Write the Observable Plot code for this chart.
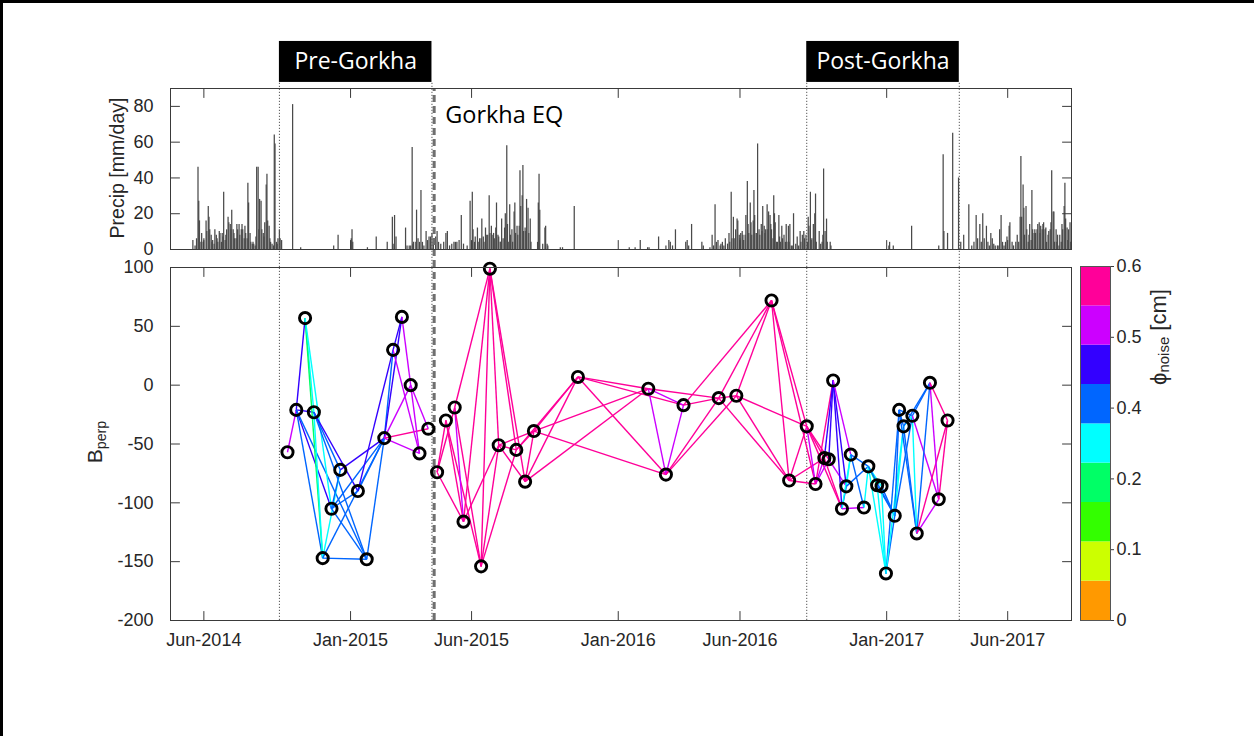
<!DOCTYPE html>
<html>
<head>
<meta charset="utf-8">
<script src="https://cdn.jsdelivr.net/npm/d3@7"></script>
<script src="https://cdn.jsdelivr.net/npm/@observablehq/plot@0.6"></script>
<style>
html, body { margin: 0; padding: 0; background: #fff; }
#fig { position: relative; width: 1254px; height: 736px; overflow: hidden; background: #fff; }
.bt { position: absolute; left: 0; top: 0; width: 1254px; height: 3px; background: #000; }
.bl { position: absolute; left: 0; top: 0; width: 3px; height: 736px; background: #000; }
.layer { position: absolute; left: 0; }
.layer svg { overflow: visible; }
.vlabel { position: absolute; transform: translate(-50%, -50%) rotate(-90deg); white-space: nowrap;
  font-family: "Liberation Sans", Arial, sans-serif; color: #262626; line-height: 1; }
.vlabel sub { font-size: 0.68em; vertical-align: -0.25em; }
</style>
</head>
<body>
<div id="fig">
  <div class="layer" id="precip" style="top:30px"></div>
  <div class="layer" id="bperp" style="top:250px"></div>
  <div class="layer" id="cbar" style="top:250px"></div>
  <div class="vlabel" style="left:118px; top:168px; font-size:19.5px">Precip [mm/day]</div>
  <div class="vlabel" style="left:96px; top:442px; font-size:21px">B<sub>perp</sub></div>
  <div class="vlabel" style="left:1160px; top:337px; font-size:22px">ϕ<sub>noise</sub> [cm]</div>
  <div class="bt"></div>
  <div class="bl"></div>
</div>
<script>
// ---------------- data ----------------
// acquisition dates and perpendicular baselines
const ptDates = ["2014-10-07","2014-10-19","2014-10-31","2014-11-12","2014-11-24","2014-12-06","2014-12-18","2015-01-11","2015-01-23","2015-02-16","2015-02-28","2015-03-12","2015-03-24","2015-04-05","2015-04-17",
"2015-04-29","2015-05-11","2015-05-23","2015-06-04","2015-06-28","2015-07-10","2015-07-22","2015-08-15","2015-08-27","2015-09-08","2015-11-07","2016-02-11","2016-03-06","2016-03-30","2016-05-17","2016-06-10","2016-07-28","2016-08-21","2016-09-14","2016-09-26","2016-10-08","2016-10-14","2016-10-20","2016-11-01","2016-11-07","2016-11-13","2016-12-01","2016-12-07","2016-12-19","2016-12-25","2016-12-31","2017-01-12","2017-01-18","2017-01-24","2017-02-05","2017-02-11","2017-03-01","2017-03-13","2017-03-25"];
const ptBperp = [-57,-21,57,-23,-147,-105,-72,-90,-148,-45,30,58,0,-58,-37,
-74,-30,-19,-116,-154,99,-51,-55,-82,-39,7,-3,-76,-17,-11,-9,72,-81,-35,-84,-62,-63,4,-105,-86,-59,-104,-69,-85,-86,-160,-111,-21,-35,-26,-126,2,-97,-30];

// interferogram pairs: [first, second, phase noise (cm)]
const edges = [
 [0,1,0.50],[1,2,0.44],[1,3,0.44],[1,4,0.37],[1,5,0.44],[1,8,0.37],[2,3,0.30],[2,4,0.23],[2,5,0.30],
 [3,4,0.30],[3,6,0.37],[3,7,0.44],[3,8,0.37],[4,6,0.30],[4,8,0.37],[4,9,0.37],[5,6,0.37],[5,7,0.37],
 [5,8,0.37],[5,9,0.37],[6,9,0.44],[7,9,0.37],[7,10,0.44],[8,9,0.37],[9,10,0.37],[9,11,0.44],[9,12,0.50],
 [9,13,0.50],[9,14,0.57],[10,11,0.44],[10,13,0.50],[11,12,0.50],[12,13,0.50],[12,14,0.50],
 [15,16,0.57],[15,17,0.57],[15,18,0.57],[16,18,0.57],[16,19,0.57],[17,18,0.50],[17,19,0.57],[17,20,0.57],
 [18,20,0.57],[18,21,0.57],[19,20,0.57],[19,21,0.57],[19,22,0.57],[20,21,0.57],[20,22,0.57],[20,23,0.57],
 [21,22,0.57],[21,23,0.57],[21,24,0.57],[22,24,0.57],[22,25,0.57],[23,24,0.57],[23,25,0.57],[23,26,0.57],
 [24,25,0.57],[24,26,0.57],[24,27,0.57],[25,26,0.57],[25,27,0.57],[25,28,0.57],[26,27,0.50],[26,28,0.50],
 [26,29,0.57],[27,28,0.50],[27,29,0.57],[27,30,0.57],[28,29,0.57],[28,31,0.57],[29,30,0.57],[29,31,0.57],
 [30,31,0.57],[30,32,0.57],[29,32,0.57],[30,33,0.57],[31,32,0.57],[31,33,0.57],[31,34,0.57],
 [32,33,0.57],[32,34,0.57],[32,35,0.57],[33,34,0.50],[33,35,0.57],[33,36,0.57],[33,38,0.57],[34,35,0.50],
 [34,36,0.50],[34,37,0.57],[35,37,0.44],[36,37,0.44],[35,38,0.57],[36,39,0.50],[37,38,0.44],[37,39,0.44],
 [37,40,0.50],[38,39,0.37],[38,40,0.30],[38,41,0.50],[39,40,0.30],[39,42,0.37],[40,41,0.37],[40,42,0.37],
 [41,42,0.30],[42,43,0.23],[42,44,0.30],[42,45,0.30],[42,46,0.37],[43,45,0.30],[43,46,0.37],[44,45,0.30],
 [44,46,0.37],[45,46,0.37],[45,47,0.37],[45,48,0.30],[46,47,0.37],[46,48,0.30],[46,49,0.37],[47,48,0.37],
 [47,49,0.37],[47,50,0.37],[48,49,0.30],[48,50,0.37],[48,51,0.37],[49,50,0.30],[49,51,0.37],[49,52,0.50],
 [50,51,0.37],[50,52,0.50],[50,53,0.57],[51,52,0.50],[51,53,0.57],[52,53,0.57]
];

// daily precipitation: day number counted from precipStart, and amount (mm/day)
const precipStart = "2014-05-01";
const precipDay = [30,33,35,37,38,39,41,42,44,45,48,49,51,52,53,55,56,57,59,60,62,63,64,66,67,69,70,71,72,74,75,76,78,79,81,82,83,85,86,87,89,90,91,93,94,96,97,98,100,101,102,104,105,106,108,109,111,112,113,115,116,117,119,120,121,123,124,126,127,128,130,131,132,134,135,136,138,140,141,142,144,145,146,148,149,151,166,177,222,228,246,247,248,268,280,295,302,303,305,307,320,322,325,327,329,330,331,334,335,337,339,341,343,345,348,350,352,354,356,358,361,363,365,368,372,375,377,380,383,386,388,390,393,396,399,404,408,
411,412,414,415,418,419,421,423,424,426,427,429,430,432,434,435,437,438,440,441,443,444,446,447,449,450,451,453,455,456,458,459,460,462,463,465,466,468,469,470,472,473,475,476,477,479,480,481,483,484,485,487,488,490,491,500,501,502,503,507,510,511,513,514,531,534,550,625,633,640,650,652,665,675,679,681,684,688,702,704,706,710,724,726,735,738,740,742,744,746,749,750,752,754,756,759,761,762,764,765,767,769,770,772,773,775,776,777,779,780,781,783,784,786,787,788,790,791,792,794,795,796,798,799,800,802,803,805,806,807,809,810,811,813,814,815,817,
818,819,821,822,823,824,826,827,829,830,831,833,834,836,838,839,840,842,843,844,846,848,849,852,854,856,858,859,861,863,864,866,868,869,870,872,873,874,876,878,879,880,884,886,888,889,890,892,894,895,899,900,979,980,985,1010,1047,1053,1054,1059,1066,1074,1077,1081,1088,1092,1095,1098,1100,1103,1105,1107,1109,1112,1114,1116,1118,1120,1122,1124,1127,1129,1130,1132,1134,1136,1138,1140,1143,1144,1147,1149,1152,1154,1156,1158,1159,1160,1162,1163,1164,1166,1167,1169,1170,1171,1173,1174,1175,1177,1178,1179,1181,1182,1184,1185,1186,1188,1189,1190,1192,1193,1194,1196,1197,1199,1200,1201,1203,1204,1205,1207,1208,1209,1211,1212,1214,1215,1216,1218,1219,1220,1222,1223,1224,1226,1227];
const precipMm = [5,2,6,46,27,16,4,9,4,6,16,10,24,18,11,8,4,5,3,11,8,6,4,10,9,4,9,7,32,5,8,11,18,15,14,11,22,11,9,6,6,14,11,14,8,11,14,11,6,13,9,6,37,26,9,4,3,4,3,2,7,46,46,11,28,27,11,9,7,15,36,42,16,13,6,4,3,2,64,59,4,3,6,11,6,5,81,1,2,8,6,11,4,1,7,4,18,3,19,7,12,2,2,2,57,3,4,4,22,6,4,33,4,2,10,5,7,7,9,4,7,10,4,3,4,9,10,2,3,4,4,4,5,19,3,2,27,
32,11,4,7,12,4,6,6,17,7,4,12,8,8,30,9,13,8,9,6,12,26,8,7,4,4,17,6,12,20,58,14,4,25,8,11,4,21,26,9,13,8,13,44,24,30,47,10,12,10,28,23,9,17,4,4,26,42,22,3,12,13,3,2,1,1,24,1,1,5,1,1,7,2,5,4,2,11,4,5,2,14,4,2,1,8,2,25,4,5,2,3,4,2,6,3,9,4,32,6,18,6,11,17,16,8,6,9,10,8,5,8,19,38,14,9,26,15,8,16,33,19,9,9,59,11,8,14,10,24,13,9,11,25,11,21,19,
14,11,6,30,20,15,4,4,19,7,4,13,6,8,4,14,4,13,4,14,2,2,20,3,7,2,10,4,8,10,6,8,4,18,13,32,5,6,14,20,31,4,10,3,4,8,45,10,17,4,4,2,2,4,2,13,2,53,10,9,65,40,4,8,25,2,4,19,6,14,4,20,6,13,4,2,9,6,3,2,2,2,11,19,4,2,4,7,13,15,4,2,4,8,4,18,52,18,36,23,8,24,11,4,8,14,5,33,11,9,11,9,11,14,15,9,13,11,14,15,11,12,4,8,10,11,15,44,21,21,4,11,4,8,2,8,4,14,11,24,37,17,12,5,11,15,4];

// study periods and the earthquake
const periodNames = ["Pre-Gorkha", "Post-Gorkha"];
const periodStarts = ["2014-09-26", "2016-09-14"];
const periodEnds = ["2015-04-22", "2017-04-10"];
const eqDate = "2015-04-25";
const eqLabel = "Gorkha EQ";

// axis ticks
const xTickDates = ["2014-06-15","2015-01-01","2015-06-15","2016-01-01","2016-06-15","2017-01-01","2017-06-15"];
const precipTicks = [0, 20, 40, 60, 80];
const bperpTicks = [-200, -150, -100, -50, 0, 50, 100];

// colour bar (phase noise, cm)
const noiseColors = ["#ff9900","#ccff00","#33ff00","#00ff66","#00ffff","#0066ff","#3300ff","#cc00ff","#ff0099"];
const noiseThresholds = [0.0667,0.1333,0.2,0.2667,0.3333,0.4,0.4667,0.5333];
const cbarTickLabels = ["0","0.1","0.2","0.4","0.5","0.6"];

// ---------------- build ----------------
const parse = s => new Date(s + "T00:00:00Z");
const points = ptDates.map((d, i) => ({date: parse(d), b: ptBperp[i]}));
const links = edges.map(([a, b, n]) => ({a: points[a], b: points[b], noise: n}));
const start0 = parse(precipStart);
const precip = precipDay.map((d, i) => ({date: d3.utcDay.offset(start0, d), mm: precipMm[i]}));
const periods = periodNames.map((name, i) => ({name, start: parse(periodStarts[i]), end: parse(periodEnds[i])}));
const bounds = periods.flatMap(p => [p.start, p.end]);
const eq = parse(eqDate);
const xTicks = xTickDates.map(parse);

const axisColor = "#3a3a3a";
const textColor = "#262626";
const fontTick = '"Liberation Sans", Arial, Helvetica, sans-serif';
const fontNote = '"Open Sans", "Liberation Sans", sans-serif';
const W = 1254, ML = 170, MR = 183;
const xScale = {type: "utc", domain: [new Date("2014-04-30T12:00:00Z"), new Date("2017-09-10T00:00:00Z")]};
const baseStyle = {fontFamily: fontTick, fontSize: "18px", color: textColor, background: "transparent", overflow: "visible"};

// layout helpers expressed in precipitation units (for annotation placement above/below the frame)
const labelBand = [93.4, 116.3];
const gapBottom = -10.06;
const eqTextY = 75;

// inward MATLAB-style tick marks
const tickShape = {draw(context, l) { context.moveTo(0, 0); context.lineTo(0, -l); }};
const TL = 9;
function boxTicks(yTicks) {
  const o = {length: TL, anchor: "start", shape: tickShape, stroke: axisColor, strokeWidth: 1};
  return [
    Plot.vector(yTicks, {...o, y: d => d, frameAnchor: "left", rotate: 90}),
    Plot.vector(yTicks, {...o, y: d => d, frameAnchor: "right", rotate: -90}),
    Plot.vector(xTicks, {...o, x: d => d, frameAnchor: "top", rotate: 180}),
    Plot.vector(xTicks, {...o, x: d => d, frameAnchor: "bottom", rotate: 0})
  ];
}

const precipPlot = Plot.plot({
  width: W, height: 237, marginTop: 58, marginBottom: 18, marginLeft: ML, marginRight: MR,
  x: xScale,
  y: {domain: [0, 90]},
  style: baseStyle,
  marks: [
    Plot.ruleX(precip, {x: "date", y1: 0, y2: "mm", stroke: "#4a4a4a", strokeWidth: 1.25}),
    Plot.ruleX(bounds, {x: d => d, y1: gapBottom, y2: labelBand[0], stroke: "#555", strokeWidth: 1, strokeDasharray: "1.2,1.8"}),
    Plot.ruleX([eq], {x: d => d, y1: gapBottom, y2: 90, stroke: "#6f6f6f", strokeWidth: 3, strokeDasharray: "7,4"}),
    Plot.rect(periods, {x1: "start", x2: "end", y1: labelBand[0], y2: labelBand[1], fill: "black"}),
    Plot.text(periods, {x: p => new Date((+p.start + +p.end) / 2), y: (labelBand[0] + labelBand[1]) / 2, text: "name",
      fill: "white", fontSize: 23, fontFamily: fontNote}),
    Plot.text([eq], {x: d => d, y: eqTextY, text: () => eqLabel, textAnchor: "start", dx: 11, fill: "black",
      fontSize: 23.5, fontFamily: fontNote}),
    Plot.frame({stroke: axisColor}),
    ...boxTicks(precipTicks),
    Plot.axisY({ticks: precipTicks, tickSize: 0, tickPadding: 17, label: null}),
    Plot.axisX({ticks: xTicks, tickSize: 0, tickFormat: () => "", label: null})
  ]
});
document.getElementById("precip").append(precipPlot);

const bperpPlot = Plot.plot({
  width: W, height: 486, marginTop: 17, marginBottom: 116, marginLeft: ML, marginRight: MR,
  x: xScale,
  y: {domain: [-200, 100]},
  color: {type: "threshold", domain: noiseThresholds, range: noiseColors},
  style: baseStyle,
  marks: [
    Plot.ruleX(bounds, {x: d => d, y1: -200, y2: 100, stroke: "#555", strokeWidth: 1, strokeDasharray: "1.2,1.8"}),
    Plot.ruleX([eq], {x: d => d, y1: -200, y2: 100, stroke: "#6f6f6f", strokeWidth: 3, strokeDasharray: "7,4"}),
    Plot.link(links, {x1: d => d.a.date, y1: d => d.a.b, x2: d => d.b.date, y2: d => d.b.b, stroke: "noise", strokeWidth: 1.4}),
    Plot.dot(points, {x: "date", y: "b", r: 5.6, stroke: "black", strokeWidth: 2.9, fill: "none"}),
    Plot.frame({stroke: axisColor}),
    ...boxTicks(bperpTicks),
    Plot.axisY({ticks: bperpTicks, tickSize: 0, tickPadding: 17, tickFormat: d => String(d), label: null}),
    Plot.axisX({ticks: xTicks, tickSize: 0, tickPadding: 13, tickFormat: d3.utcFormat("%b-%Y"), label: null})
  ]
});
document.getElementById("bperp").append(bperpPlot);

const bandEdges = [0, ...noiseThresholds, 0.6];
const bands = noiseColors.map((c, i) => ({lo: bandEdges[i], hi: bandEdges[i + 1], color: c}));
const cbarTickPos = cbarTickLabels.map((_, i) => 0.6 * i / (cbarTickLabels.length - 1));

const cbarPlot = Plot.plot({
  width: W, height: 486, marginTop: 16, marginBottom: 116, marginLeft: 1080, marginRight: 144,
  y: {domain: [0, 0.6]},
  color: {type: "identity"},
  style: baseStyle,
  marks: [
    Plot.rect(bands, {y1: "lo", y2: "hi", fill: "color"}),
    Plot.frame({stroke: "#555"}),
    Plot.axisY({anchor: "right", ticks: cbarTickPos, tickSize: 3, tickPadding: 3,
      tickFormat: (d, i) => cbarTickLabels[i], label: null, stroke: axisColor})
  ]
});
document.getElementById("cbar").append(cbarPlot);
</script>
</body>
</html>
